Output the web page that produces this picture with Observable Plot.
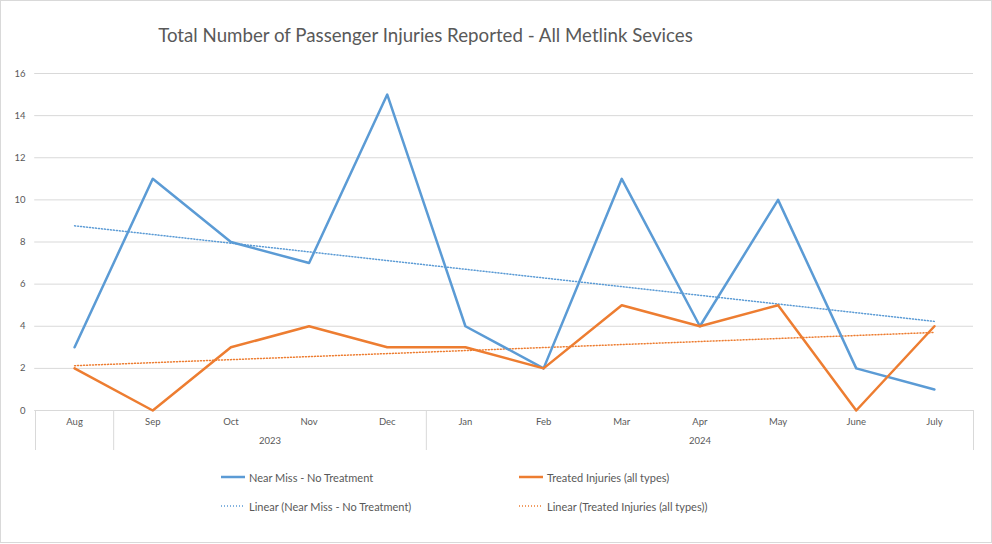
<!DOCTYPE html>
<html><head><meta charset="utf-8">
<script src="https://cdn.jsdelivr.net/npm/d3@7"></script>
<script src="https://cdn.jsdelivr.net/npm/@observablehq/plot@0.6"></script>
<style>
body{margin:0;background:#fff;font-family:Lato,"Open Sans",sans-serif;}
#frame{position:absolute;left:0;top:0;width:990px;height:541px;border:1px solid #d9d9d9;box-sizing:content-box;}
#title{position:absolute;top:24px;left:0;width:851px;text-align:center;font-size:18.7px;color:#595959;white-space:nowrap;}
#chart{position:absolute;left:0;top:60px;}
.leg{position:absolute;font-size:11px;color:#595959;display:flex;align-items:center;height:16px;white-space:nowrap;}
.leg svg{margin-right:4px;}
</style></head>
<body>
<div id="frame"></div>
<div id="title">Total Number of Passenger Injuries Reported - All Metlink Sevices</div>
<div id="chart"></div>
<div id="legend"></div>
<script>
const months = ["Aug","Sep","Oct","Nov","Dec","Jan","Feb","Mar","Apr","May","June","July"];
const nearMiss = [3,11,8,7,15,4,2,11,4,10,2,1];
const treated  = [2,0,3,4,3,3,2,5,4,5,0,4];
const yearGroups = [
  {year:"", first:"Aug", last:"Aug"},
  {year:"2023", first:"Sep", last:"Dec"},
  {year:"2024", first:"Jan", last:"July"}
];
const seriesNames = ["Near Miss - No Treatment","Treated Injuries (all types)"];
const seriesColors = ["#5b9bd5","#ed7d31"];
const yTicks = [0,2,4,6,8,10,12,14,16];

const idx = months.map((m,i)=>i);
function regress(vals){
  const mx = d3.mean(idx), my = d3.mean(vals);
  let sxy=0,sxx=0;
  idx.forEach((x,i)=>{sxy+=(x-mx)*(vals[i]-my);sxx+=(x-mx)*(x-mx);});
  const b = sxy/sxx, a = my-b*mx;
  return idx.map(x=>({x, y:a+b*x}));
}
const seriesVals = [nearMiss, treated];
const lines = seriesVals.map(v=>idx.map(i=>({x:i,y:v[i]})));
const trends = seriesVals.map(regress);

const groups = yearGroups.map(g=>({year:g.year, from:months.indexOf(g.first), to:months.indexOf(g.last)}));
const seps = [...groups.map(g=>g.from-0.5), groups[groups.length-1].to+0.5];
const labelled = groups.filter(g=>g.year);

const marks = [
  Plot.gridY(yTicks,{stroke:"#d9d9d9",strokeOpacity:1,x1:-0.51}),
  Plot.axisY(yTicks,{tickSize:0,tickPadding:10,fontSize:9.5,color:"#595959",label:null}),
  Plot.ruleY([0],{stroke:"#d9d9d9",strokeWidth:1}),
  Plot.axisX(seps,{tickSize:40,tickFormat:()=>"",stroke:"#d9d9d9",label:null}),
  Plot.axisX(idx,{tickSize:0,tickPadding:8,tickFormat:i=>months[i],fontSize:9.5,color:"#595959",label:null}),
  Plot.axisX(labelled.map(g=>(g.from+g.to)/2),{tickSize:0,tickPadding:27,tickFormat:(d,i)=>labelled[i].year,fontSize:9.5,color:"#595959",label:null}),
];
trends.forEach((t,k)=>marks.push(Plot.line(t,{x:"x",y:"y",stroke:seriesColors[k],strokeWidth:1.5,strokeDasharray:"1,2"})));
lines.forEach((l,k)=>marks.push(Plot.line(l,{x:"x",y:"y",stroke:seriesColors[k],strokeWidth:2.5,strokeLinejoin:"round"})));

const chart = Plot.plot({
  width:992, height:400,
  marginLeft:35, marginRight:19, marginTop:13, marginBottom:50,
  x:{type:"linear", domain:[-0.5, months.length-0.5]},
  y:{domain:[0,16]},
  style:{fontFamily:"Lato, 'Open Sans', sans-serif", background:"transparent", overflow:"visible"},
  marks
});
document.getElementById("chart").appendChild(chart);

const legItems = [
  {name:seriesNames[0], color:seriesColors[0], dash:null, left:221, top:469},
  {name:seriesNames[1], color:seriesColors[1], dash:null, left:519, top:469},
  {name:"Linear ("+seriesNames[0]+")", color:seriesColors[0], dash:"1,2", left:221, top:498},
  {name:"Linear ("+seriesNames[1]+")", color:seriesColors[1], dash:"1,2", left:519, top:498},
];
const L = document.getElementById("legend");
legItems.forEach(it=>{
  const d = document.createElement("div");
  d.className="leg"; d.style.left=it.left+"px"; d.style.top=it.top+"px";
  d.innerHTML = `<svg width="24" height="6"><line x1="0" x2="24" y1="3" y2="3" stroke="${it.color}" stroke-width="${it.dash?1.5:2.5}" ${it.dash?`stroke-dasharray="${it.dash}"`:""}/></svg><span>${it.name}</span>`;
  L.appendChild(d);
});
</script>
</body></html>
